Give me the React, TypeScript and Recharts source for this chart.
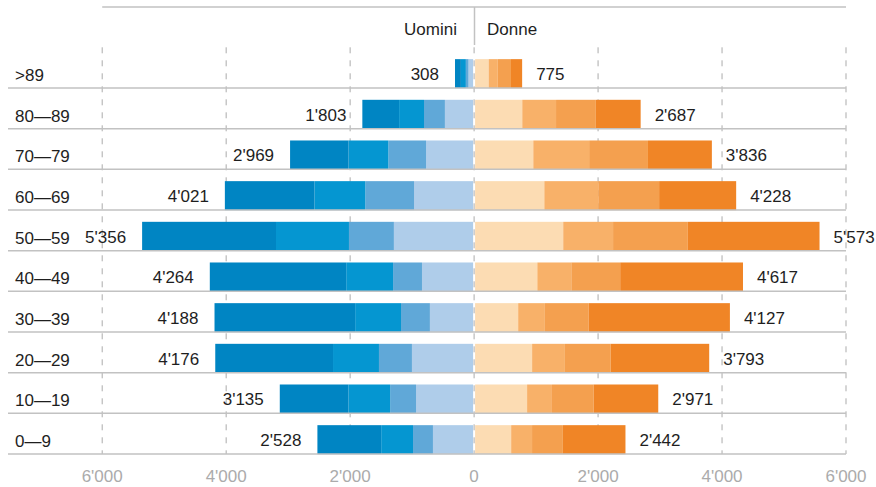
import React from "react";
import { BarChart, Bar, XAxis, YAxis, CartesianGrid, LabelList } from "recharts";

// ---- data (top row first) ----
const ages = [">89", "80—89", "70—79", "60—69", "50—59", "40—49", "30—39", "20—29", "10—19", "0—9"];

// Uomini: segments from the centre outwards
const men1 = [90, 471, 775, 969, 1294, 841, 713, 1003, 936, 664];
const men2 = [43, 337, 609, 787, 725, 466, 466, 532, 418, 321];
const men3 = [80, 402, 641, 819, 1177, 756, 740, 741, 674, 514];
const men4 = [95, 593, 944, 1446, 2160, 2201, 2269, 1900, 1107, 1029];
const menTotals = [308, 1803, 2969, 4021, 5356, 4264, 4188, 4176, 3135, 2528];

// Donne: segments from the centre outwards
const women1 = [235, 777, 955, 1133, 1438, 1020, 711, 936, 855, 598];
const women2 = [147, 545, 901, 870, 804, 548, 431, 529, 401, 337];
const women3 = [213, 642, 949, 982, 1206, 789, 706, 738, 673, 497];
const women4 = [180, 723, 1031, 1243, 2125, 1981, 2279, 1590, 1042, 1010];
const womenTotals = [775, 2687, 3836, 4228, 5573, 4617, 4127, 3793, 2971, 2442];

const xTicks = [-6000, -4000, -2000, 0, 2000, 4000, 6000];

const fmt = (v: number) => {
  const s = String(Math.round(Math.abs(v)));
  return s.replace(/\B(?=(\d{3})+(?!\d))/g, "'");
};

const data = ages.map((age, i) => ({
  age,
  m1: -men1[i],
  m2: -men2[i],
  m3: -men3[i],
  m4: -men4[i],
  w1: women1[i],
  w2: women2[i],
  w3: women3[i],
  w4: women4[i],
  mLabel: fmt(menTotals[i]),
  wLabel: fmt(womenTotals[i]),
}));

// ---- layout / style ----
const W = 876;
const H = 487;
const MARGIN = { top: 47.3, right: 30, bottom: 3, left: 0 };
const X_AXIS_H = 30;
const Y_AXIS_W = 102.2;
const BAND = (H - MARGIN.top - MARGIN.bottom - X_AXIS_H) / ages.length;
const BAR = 29;
const SHIFT = (BAND - BAR) / 2;
const FONT = "'Liberation Sans', Arial, Helvetica, sans-serif";
const FS = 17;
const PLOT_RIGHT = W - MARGIN.right;

const C_M = ["#afcdea", "#60a8d8", "#0596d1", "#0085c3"];
const C_W = ["#fcdcb3", "#f8b169", "#f4a04f", "#f08526"];

const makeShape = (inner: "m" | "w" | null) => (p: any) => {
  let x = p.width < 0 ? p.x + p.width : p.x;
  let w = Math.abs(p.width);
  if (inner === "m") w = Math.max(0, w - 1);
  if (inner === "w") {
    x += 1;
    w = Math.max(0, w - 1);
  }
  return <rect x={x} y={p.y + SHIFT} width={w} height={Math.abs(p.height)} fill={p.fill} />;
};

const boxOf = (p: any) => {
  const vb = p.viewBox || {};
  const x = p.x ?? vb.x;
  const y = p.y ?? vb.y;
  const width = p.width ?? vb.width;
  const height = p.height ?? vb.height;
  return { x, y, width, height };
};

const MenLabel = (p: any) => {
  const b = boxOf(p);
  const left = Math.min(b.x, b.x + b.width);
  const cy = b.y + SHIFT + Math.abs(b.height) / 2;
  const txt = p.value ?? (p.index != null ? fmt(menTotals[p.index]) : "");
  return (
    <text x={left - 16} y={cy + 6.3} textAnchor="end" fontFamily={FONT} fontSize={FS} fill="#1e1e1e">
      {txt}
    </text>
  );
};

const WomenLabel = (p: any) => {
  const b = boxOf(p);
  const right = Math.max(b.x, b.x + b.width);
  const cy = b.y + SHIFT + Math.abs(b.height) / 2;
  const txt = p.value ?? (p.index != null ? fmt(womenTotals[p.index]) : "");
  return (
    <text x={right + 14} y={cy + 6.3} textAnchor="start" fontFamily={FONT} fontSize={FS} fill="#1e1e1e">
      {txt}
    </text>
  );
};

const YTick = (p: any) => {
  const lineY = p.y + BAND / 2;
  return (
    <g>
      <line x1={8} x2={PLOT_RIGHT} y1={lineY} y2={lineY} stroke="#c2c2c2" strokeWidth={1.5} />
      <text x={15} y={lineY - 7} textAnchor="start" fontFamily={FONT} fontSize={FS} fill="#1e1e1e">
        {p.payload.value}
      </text>
    </g>
  );
};

export default function App() {
  return (
    <div style={{ position: "absolute", left: 0, top: 0, width: W, height: H, background: "#fff" }}>
      <BarChart
        width={W}
        height={H}
        data={data}
        layout="vertical"
        margin={MARGIN}
        stackOffset="sign"
        barSize={BAR}
      >
        <CartesianGrid vertical horizontal={false} stroke="#ababab" strokeDasharray="6 7" />
        <XAxis
          type="number"
          domain={[-6000, 6000]}
          ticks={xTicks}
          allowDataOverflow
          axisLine={false}
          tickLine={false}
          tickSize={0}
          tickMargin={16}
          height={X_AXIS_H}
          tickFormatter={(v: number) => fmt(v)}
          tick={{ fill: "#ababab", fontSize: FS, fontFamily: FONT }}
        />
        <YAxis
          type="category"
          dataKey="age"
          width={Y_AXIS_W}
          axisLine={false}
          tickLine={false}
          interval={0}
          tick={<YTick />}
        />
        <Bar dataKey="m1" stackId="a" fill={C_M[0]} isAnimationActive={false} shape={makeShape("m")} />
        <Bar dataKey="m2" stackId="a" fill={C_M[1]} isAnimationActive={false} shape={makeShape(null)} />
        <Bar dataKey="m3" stackId="a" fill={C_M[2]} isAnimationActive={false} shape={makeShape(null)} />
        <Bar dataKey="m4" stackId="a" fill={C_M[3]} isAnimationActive={false} shape={makeShape(null)}>
          <LabelList dataKey="mLabel" content={<MenLabel />} />
        </Bar>
        <Bar dataKey="w1" stackId="a" fill={C_W[0]} isAnimationActive={false} shape={makeShape("w")} />
        <Bar dataKey="w2" stackId="a" fill={C_W[1]} isAnimationActive={false} shape={makeShape(null)} />
        <Bar dataKey="w3" stackId="a" fill={C_W[2]} isAnimationActive={false} shape={makeShape(null)} />
        <Bar dataKey="w4" stackId="a" fill={C_W[3]} isAnimationActive={false} shape={makeShape(null)}>
          <LabelList dataKey="wLabel" content={<WomenLabel />} />
        </Bar>
      </BarChart>
      <svg
        width={W}
        height={50}
        style={{ position: "absolute", left: 0, top: 0, pointerEvents: "none" }}
      >
        <line x1={Y_AXIS_W} x2={PLOT_RIGHT} y1={7} y2={7} stroke="#c2c2c2" strokeWidth={1.5} />
        <line x1={474.5} x2={474.5} y1={7} y2={45} stroke="#c2c2c2" strokeWidth={1.5} />
        <text x={457} y={35} textAnchor="end" fontFamily={FONT} fontSize={FS} fill="#1e1e1e">
          Uomini
        </text>
        <text x={487} y={35} textAnchor="start" fontFamily={FONT} fontSize={FS} fill="#1e1e1e">
          Donne
        </text>
      </svg>
    </div>
  );
}
